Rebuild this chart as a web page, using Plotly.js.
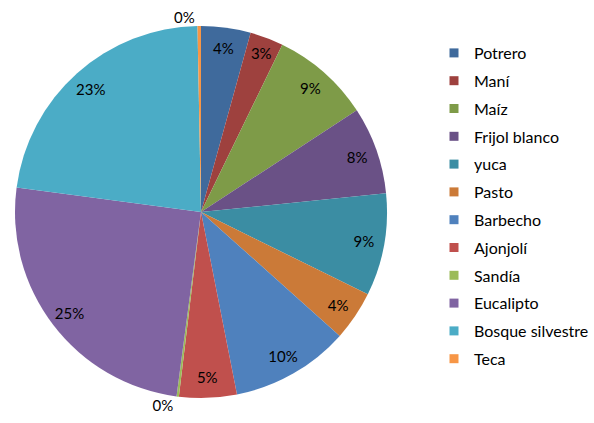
<!DOCTYPE html>
<html>
<head>
<meta charset="utf-8">
<script src="https://cdn.plot.ly/plotly-3.0.1.min.js"></script>
<style>html,body{margin:0;padding:0;background:#fff;}#chart{width:594px;height:423px;}</style>
</head>
<body>
<div id="chart"></div>
<script>
const labels = ["Potrero","Maní","Maíz","Frijol blanco","yuca","Pasto","Barbecho","Ajonjolí","Sandía","Eucalipto","Bosque silvestre","Teca"];
const values = [4.3, 2.9, 8.6, 7.6, 8.9, 4.3, 10.3, 5.0, 0.2, 25.0, 22.6, 0.3];
const colors = ["#3F6A9C","#9E413E","#7E9B48","#6A5186","#3B8DA3","#CB7A38","#4F81BD","#C0504D","#9BBB59","#8064A2","#4BACC6","#F79646"];
const textPositions = ["inside","inside","inside","inside","inside","inside","inside","inside","outside","inside","inside","outside"];

const FONT = "Lato, 'Open Sans', sans-serif";
const DOMAIN = {x: [15/594, 387/594], y: [25/423, 397/423]};

// filled pie (no text)
const pie = {
  type: "pie",
  labels: labels,
  values: values,
  sort: false,
  direction: "clockwise",
  rotation: 0,
  marker: {colors: colors, line: {width: 0}},
  textinfo: "none",
  domain: DOMAIN,
  showlegend: false,
  hoverinfo: "label+percent"
};

// transparent ring on top, carrying the percentage labels near the rim
const labelRing = {
  type: "pie",
  labels: labels,
  values: values,
  sort: false,
  direction: "clockwise",
  rotation: 0,
  hole: 0.78,
  marker: {colors: labels.map(() => "rgba(0,0,0,0)"), line: {width: 0}},
  texttemplate: "%{percent:.0%}",
  textposition: textPositions,
  insidetextorientation: "horizontal",
  textfont: {family: FONT, size: 15, color: "#000"},
  outsidetextfont: {family: FONT, size: 15, color: "#000"},
  domain: DOMAIN,
  showlegend: false,
  hoverinfo: "skip"
};

const legendTraces = labels.map((lab, i) => ({
  type: "scatter",
  x: [null], y: [null],
  mode: "markers",
  name: lab,
  legendgroup: lab,
  marker: {symbol: "square", size: 9, color: colors[i]},
  showlegend: true,
  hoverinfo: "skip"
}));

const layout = {
  width: 594, height: 423,
  margin: {l: 0, r: 0, t: 0, b: 0},
  paper_bgcolor: "#fff",
  plot_bgcolor: "rgba(0,0,0,0)",
  font: {family: FONT, size: 16, color: "#000"},
  xaxis: {visible: false, domain: [0.99, 1]},
  yaxis: {visible: false, domain: [0.99, 1]},
  legend: {
    x: 434/594, y: 1 - 36/423, xanchor: "left", yanchor: "top",
    font: {family: FONT, size: 16, color: "#000"},
    tracegroupgap: 4,
    bgcolor: "rgba(0,0,0,0)"
  }
};

Plotly.newPlot("chart", [pie, labelRing].concat(legendTraces), layout, {displayModeBar: false, staticPlot: true});
</script>
</body>
</html>
